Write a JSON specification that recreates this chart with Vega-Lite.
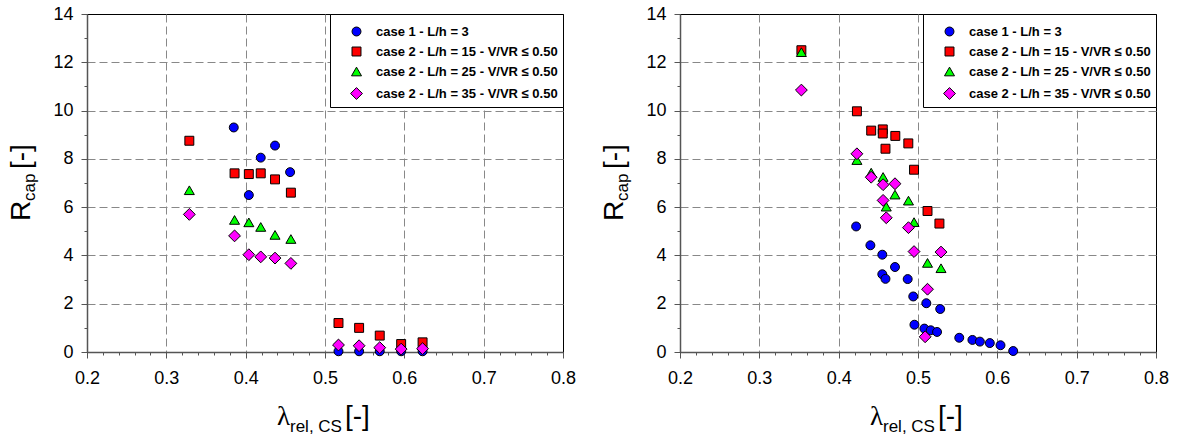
{
  "$schema": "https://vega.github.io/schema/vega-lite/v6.json",
  "background": "white",
  "padding": {"left": 7, "top": 4, "right": 0, "bottom": 0},
  "datasets": {
    "pts": [
      {"panel": "a", "series": "case 1 - L/h = 3", "lam": 0.385, "R": 9.3},
      {"panel": "a", "series": "case 1 - L/h = 3", "lam": 0.404, "R": 6.5},
      {"panel": "a", "series": "case 1 - L/h = 3", "lam": 0.419, "R": 8.05},
      {"panel": "a", "series": "case 1 - L/h = 3", "lam": 0.437, "R": 8.55},
      {"panel": "a", "series": "case 1 - L/h = 3", "lam": 0.456, "R": 7.45},
      {"panel": "a", "series": "case 1 - L/h = 3", "lam": 0.517, "R": 0.03},
      {"panel": "a", "series": "case 1 - L/h = 3", "lam": 0.543, "R": 0.03},
      {"panel": "a", "series": "case 1 - L/h = 3", "lam": 0.569, "R": 0.03},
      {"panel": "a", "series": "case 1 - L/h = 3", "lam": 0.596, "R": 0.03},
      {"panel": "a", "series": "case 1 - L/h = 3", "lam": 0.623, "R": 0.03},
      {"panel": "a", "series": "case 2 - L/h = 15 - V/VR ≤ 0.50", "lam": 0.329, "R": 8.75},
      {"panel": "a", "series": "case 2 - L/h = 15 - V/VR ≤ 0.50", "lam": 0.386, "R": 7.4},
      {"panel": "a", "series": "case 2 - L/h = 15 - V/VR ≤ 0.50", "lam": 0.404, "R": 7.37},
      {"panel": "a", "series": "case 2 - L/h = 15 - V/VR ≤ 0.50", "lam": 0.419, "R": 7.4},
      {"panel": "a", "series": "case 2 - L/h = 15 - V/VR ≤ 0.50", "lam": 0.437, "R": 7.15},
      {"panel": "a", "series": "case 2 - L/h = 15 - V/VR ≤ 0.50", "lam": 0.457, "R": 6.6},
      {"panel": "a", "series": "case 2 - L/h = 15 - V/VR ≤ 0.50", "lam": 0.517, "R": 1.2},
      {"panel": "a", "series": "case 2 - L/h = 15 - V/VR ≤ 0.50", "lam": 0.543, "R": 1.0},
      {"panel": "a", "series": "case 2 - L/h = 15 - V/VR ≤ 0.50", "lam": 0.569, "R": 0.68},
      {"panel": "a", "series": "case 2 - L/h = 15 - V/VR ≤ 0.50", "lam": 0.596, "R": 0.33},
      {"panel": "a", "series": "case 2 - L/h = 15 - V/VR ≤ 0.50", "lam": 0.623, "R": 0.4},
      {"panel": "a", "series": "case 2 - L/h = 25 - V/VR ≤ 0.50", "lam": 0.329, "R": 6.7},
      {"panel": "a", "series": "case 2 - L/h = 25 - V/VR ≤ 0.50", "lam": 0.386, "R": 5.47},
      {"panel": "a", "series": "case 2 - L/h = 25 - V/VR ≤ 0.50", "lam": 0.404, "R": 5.37},
      {"panel": "a", "series": "case 2 - L/h = 25 - V/VR ≤ 0.50", "lam": 0.419, "R": 5.18},
      {"panel": "a", "series": "case 2 - L/h = 25 - V/VR ≤ 0.50", "lam": 0.437, "R": 4.85},
      {"panel": "a", "series": "case 2 - L/h = 25 - V/VR ≤ 0.50", "lam": 0.457, "R": 4.68},
      {"panel": "a", "series": "case 2 - L/h = 35 - V/VR ≤ 0.50", "lam": 0.329, "R": 5.7},
      {"panel": "a", "series": "case 2 - L/h = 35 - V/VR ≤ 0.50", "lam": 0.386, "R": 4.81},
      {"panel": "a", "series": "case 2 - L/h = 35 - V/VR ≤ 0.50", "lam": 0.404, "R": 4.03},
      {"panel": "a", "series": "case 2 - L/h = 35 - V/VR ≤ 0.50", "lam": 0.419, "R": 3.94},
      {"panel": "a", "series": "case 2 - L/h = 35 - V/VR ≤ 0.50", "lam": 0.437, "R": 3.89},
      {"panel": "a", "series": "case 2 - L/h = 35 - V/VR ≤ 0.50", "lam": 0.457, "R": 3.67},
      {"panel": "a", "series": "case 2 - L/h = 35 - V/VR ≤ 0.50", "lam": 0.517, "R": 0.29},
      {"panel": "a", "series": "case 2 - L/h = 35 - V/VR ≤ 0.50", "lam": 0.543, "R": 0.26},
      {"panel": "a", "series": "case 2 - L/h = 35 - V/VR ≤ 0.50", "lam": 0.569, "R": 0.18},
      {"panel": "a", "series": "case 2 - L/h = 35 - V/VR ≤ 0.50", "lam": 0.596, "R": 0.12},
      {"panel": "a", "series": "case 2 - L/h = 35 - V/VR ≤ 0.50", "lam": 0.623, "R": 0.14},

      {"panel": "b", "series": "case 1 - L/h = 3", "lam": 0.422, "R": 5.2},
      {"panel": "b", "series": "case 1 - L/h = 3", "lam": 0.44, "R": 4.42},
      {"panel": "b", "series": "case 1 - L/h = 3", "lam": 0.455, "R": 4.03},
      {"panel": "b", "series": "case 1 - L/h = 3", "lam": 0.455, "R": 3.22},
      {"panel": "b", "series": "case 1 - L/h = 3", "lam": 0.459, "R": 3.03},
      {"panel": "b", "series": "case 1 - L/h = 3", "lam": 0.471, "R": 3.52},
      {"panel": "b", "series": "case 1 - L/h = 3", "lam": 0.487, "R": 3.02},
      {"panel": "b", "series": "case 1 - L/h = 3", "lam": 0.494, "R": 2.3},
      {"panel": "b", "series": "case 1 - L/h = 3", "lam": 0.4955, "R": 1.13},
      {"panel": "b", "series": "case 1 - L/h = 3", "lam": 0.508, "R": 0.97},
      {"panel": "b", "series": "case 1 - L/h = 3", "lam": 0.5105, "R": 2.02},
      {"panel": "b", "series": "case 1 - L/h = 3", "lam": 0.516, "R": 0.9},
      {"panel": "b", "series": "case 1 - L/h = 3", "lam": 0.524, "R": 0.83},
      {"panel": "b", "series": "case 1 - L/h = 3", "lam": 0.528, "R": 1.78},
      {"panel": "b", "series": "case 1 - L/h = 3", "lam": 0.552, "R": 0.59},
      {"panel": "b", "series": "case 1 - L/h = 3", "lam": 0.5686, "R": 0.5},
      {"panel": "b", "series": "case 1 - L/h = 3", "lam": 0.578, "R": 0.43},
      {"panel": "b", "series": "case 1 - L/h = 3", "lam": 0.5905, "R": 0.37},
      {"panel": "b", "series": "case 1 - L/h = 3", "lam": 0.604, "R": 0.28},
      {"panel": "b", "series": "case 1 - L/h = 3", "lam": 0.62, "R": 0.04},
      {"panel": "b", "series": "case 2 - L/h = 15 - V/VR ≤ 0.50", "lam": 0.353, "R": 12.5},
      {"panel": "b", "series": "case 2 - L/h = 15 - V/VR ≤ 0.50", "lam": 0.423, "R": 9.97},
      {"panel": "b", "series": "case 2 - L/h = 15 - V/VR ≤ 0.50", "lam": 0.441, "R": 9.17},
      {"panel": "b", "series": "case 2 - L/h = 15 - V/VR ≤ 0.50", "lam": 0.4556, "R": 9.22},
      {"panel": "b", "series": "case 2 - L/h = 15 - V/VR ≤ 0.50", "lam": 0.4556, "R": 9.05},
      {"panel": "b", "series": "case 2 - L/h = 15 - V/VR ≤ 0.50", "lam": 0.4714, "R": 8.95},
      {"panel": "b", "series": "case 2 - L/h = 15 - V/VR ≤ 0.50", "lam": 0.4878, "R": 8.64},
      {"panel": "b", "series": "case 2 - L/h = 15 - V/VR ≤ 0.50", "lam": 0.459, "R": 8.42},
      {"panel": "b", "series": "case 2 - L/h = 15 - V/VR ≤ 0.50", "lam": 0.495, "R": 7.55},
      {"panel": "b", "series": "case 2 - L/h = 15 - V/VR ≤ 0.50", "lam": 0.512, "R": 5.84},
      {"panel": "b", "series": "case 2 - L/h = 15 - V/VR ≤ 0.50", "lam": 0.527, "R": 5.32},
      {"panel": "b", "series": "case 2 - L/h = 25 - V/VR ≤ 0.50", "lam": 0.353, "R": 12.42},
      {"panel": "b", "series": "case 2 - L/h = 25 - V/VR ≤ 0.50", "lam": 0.423, "R": 7.95},
      {"panel": "b", "series": "case 2 - L/h = 25 - V/VR ≤ 0.50", "lam": 0.441, "R": 7.43},
      {"panel": "b", "series": "case 2 - L/h = 25 - V/VR ≤ 0.50", "lam": 0.456, "R": 7.25},
      {"panel": "b", "series": "case 2 - L/h = 25 - V/VR ≤ 0.50", "lam": 0.471, "R": 6.52},
      {"panel": "b", "series": "case 2 - L/h = 25 - V/VR ≤ 0.50", "lam": 0.488, "R": 6.27},
      {"panel": "b", "series": "case 2 - L/h = 25 - V/VR ≤ 0.50", "lam": 0.46, "R": 6.02},
      {"panel": "b", "series": "case 2 - L/h = 25 - V/VR ≤ 0.50", "lam": 0.495, "R": 5.38},
      {"panel": "b", "series": "case 2 - L/h = 25 - V/VR ≤ 0.50", "lam": 0.512, "R": 3.69},
      {"panel": "b", "series": "case 2 - L/h = 25 - V/VR ≤ 0.50", "lam": 0.529, "R": 3.47},
      {"panel": "b", "series": "case 2 - L/h = 35 - V/VR ≤ 0.50", "lam": 0.353, "R": 10.85},
      {"panel": "b", "series": "case 2 - L/h = 35 - V/VR ≤ 0.50", "lam": 0.423, "R": 8.21},
      {"panel": "b", "series": "case 2 - L/h = 35 - V/VR ≤ 0.50", "lam": 0.441, "R": 7.24},
      {"panel": "b", "series": "case 2 - L/h = 35 - V/VR ≤ 0.50", "lam": 0.456, "R": 6.93},
      {"panel": "b", "series": "case 2 - L/h = 35 - V/VR ≤ 0.50", "lam": 0.471, "R": 6.97},
      {"panel": "b", "series": "case 2 - L/h = 35 - V/VR ≤ 0.50", "lam": 0.456, "R": 6.28},
      {"panel": "b", "series": "case 2 - L/h = 35 - V/VR ≤ 0.50", "lam": 0.46, "R": 5.56},
      {"panel": "b", "series": "case 2 - L/h = 35 - V/VR ≤ 0.50", "lam": 0.488, "R": 5.15},
      {"panel": "b", "series": "case 2 - L/h = 35 - V/VR ≤ 0.50", "lam": 0.495, "R": 4.16},
      {"panel": "b", "series": "case 2 - L/h = 35 - V/VR ≤ 0.50", "lam": 0.529, "R": 4.14},
      {"panel": "b", "series": "case 2 - L/h = 35 - V/VR ≤ 0.50", "lam": 0.512, "R": 2.6},
      {"panel": "b", "series": "case 2 - L/h = 35 - V/VR ≤ 0.50", "lam": 0.509, "R": 0.63}
    ]
  },
  "config": {
    "view": {"stroke": "black", "strokeWidth": 1},
    "axis": {
      "labelFont": "Liberation Sans",
      "labelFontSize": 18,
      "labelColor": "black",
      "labelOverlap": false,
      "labelFlush": false,
      "tickCount": 100,
      "domainColor": "#555555",
      "domainWidth": 1.5,
      "tickColor": "#555555",
      "tickWidth": 1,
      "gridColor": "#888888",
      "gridDash": [8, 4],
      "gridWidth": 1
    },
    "legend": {
      "orient": "top-right",
      "offset": 0,
      "strokeColor": "black",
      "fillColor": "white",
      "padding": 5,
      "rowPadding": 6,
      "titleFontSize": 4,
      "titlePadding": 2,
      "labelFont": "Liberation Sans",
      "labelFontSize": 13,
      "labelFontWeight": "bold",
      "labelColor": "black",
      "labelLimit": 400,
      "symbolSize": 50,
      "symbolStrokeColor": "black",
      "symbolStrokeWidth": 1,
      "symbolOffset": 15,
      "labelOffset": 13
    }
  },
  "spacing": 117,
  "bounds": "flush",
  "resolve": {
    "scale": {"color": "independent", "shape": "independent", "size": "independent"},
    "legend": {"color": "independent", "shape": "independent"}
  },
  "hconcat": [
    {
      "width": 476,
      "height": 338,
      "layer": [
        {
          "data": {"name": "pts"},
          "transform": [{"filter": "datum.panel == 'a'"}],
          "mark": {"type": "point", "filled": true, "stroke": "black", "strokeWidth": 1, "opacity": 1},
          "encoding": {
            "x": {
              "field": "lam", "type": "quantitative",
              "scale": {"domain": [0.2, 0.8], "nice": false, "zero": false},
              "axis": {
                "title": null,
                "values": [0.2, 0.22, 0.24, 0.26, 0.28, 0.3, 0.32, 0.34, 0.36, 0.38, 0.4, 0.42, 0.44, 0.46, 0.48, 0.5, 0.52, 0.54, 0.56, 0.58, 0.6, 0.62, 0.64, 0.66, 0.68, 0.7, 0.72, 0.74, 0.76, 0.78, 0.8],
                "labelExpr": "abs(datum.value * 10 - round(datum.value * 10)) < 0.001 ? format(datum.value, '.1f') : ''",
                "labelPadding": 11,
                "gridOpacity": {"condition": {"test": "abs(datum.value * 10 - round(datum.value * 10)) < 0.001 && datum.value > 0.21 && datum.value < 0.79", "value": 1}, "value": 0},
                "tickSize": {"condition": {"test": "abs(datum.value * 10 - round(datum.value * 10)) < 0.001", "value": 6}, "value": 3}
              }
            },
            "y": {
              "field": "R", "type": "quantitative",
              "scale": {"domain": [0, 14], "nice": false},
              "axis": {
                "title": null,
                "values": [0, 1, 2, 3, 4, 5, 6, 7, 8, 9, 10, 11, 12, 13, 14],
                "labelExpr": "datum.value % 2 == 0 ? format(datum.value, 'd') : ''",
                "labelPadding": 8,
                "gridOpacity": {"condition": {"test": "datum.value % 2 == 0 && datum.value > 0 && datum.value < 14", "value": 1}, "value": 0},
                "tickSize": {"condition": {"test": "datum.value % 2 == 0", "value": 6}, "value": 3}
              }
            },
            "color": {
              "field": "series", "type": "nominal",
              "scale": {"domain": ["case 1 - L/h = 3", "case 2 - L/h = 15 - V/VR ≤ 0.50", "case 2 - L/h = 25 - V/VR ≤ 0.50", "case 2 - L/h = 35 - V/VR ≤ 0.50"], "range": ["#0000ff", "#ff0000", "#00ff00", "#ff00ff"]},
              "legend": {"title": " "}
            },
            "shape": {
              "field": "series", "type": "nominal",
              "scale": {"domain": ["case 1 - L/h = 3", "case 2 - L/h = 15 - V/VR ≤ 0.50", "case 2 - L/h = 25 - V/VR ≤ 0.50", "case 2 - L/h = 35 - V/VR ≤ 0.50"], "range": ["circle", "square", "triangle-up", "diamond"]},
              "legend": {"title": " "}
            },
            "size": {
              "field": "series", "type": "nominal",
              "scale": {"type": "ordinal", "domain": ["case 1 - L/h = 3", "case 2 - L/h = 15 - V/VR ≤ 0.50", "case 2 - L/h = 25 - V/VR ≤ 0.50", "case 2 - L/h = 35 - V/VR ≤ 0.50"], "range": [80, 80, 100, 140]},
              "legend": null
            }
          }
        },
        {
          "data": {"values": [{}]},
          "mark": {"type": "text", "text": "R", "font": "Liberation Sans", "fontSize": 28, "angle": 270, "align": "left", "baseline": "alphabetic", "dx": -38, "dy": -57},
          "encoding": {"x": {"datum": 0.2, "type": "quantitative"}, "y": {"datum": 7, "type": "quantitative"}}
        },
        {
          "data": {"values": [{}]},
          "mark": {"type": "text", "text": "cap", "font": "Liberation Sans", "fontSize": 17, "angle": 270, "align": "left", "baseline": "alphabetic", "dx": -18, "dy": -52},
          "encoding": {"x": {"datum": 0.2, "type": "quantitative"}, "y": {"datum": 7, "type": "quantitative"}}
        },
        {
          "data": {"values": [{}]},
          "mark": {"type": "text", "text": "[-]", "font": "Liberation Sans", "fontSize": 28, "angle": 270, "align": "left", "baseline": "alphabetic", "dx": 14, "dy": -57},
          "encoding": {"x": {"datum": 0.2, "type": "quantitative"}, "y": {"datum": 7, "type": "quantitative"}}
        },
        {
          "data": {"values": [{}]},
          "mark": {"type": "text", "text": "λ", "font": "Liberation Serif", "fontSize": 27, "align": "left", "baseline": "alphabetic", "dx": -48, "dy": 73},
          "encoding": {"x": {"datum": 0.5, "type": "quantitative"}, "y": {"datum": 0, "type": "quantitative"}}
        },
        {
          "data": {"values": [{}]},
          "mark": {"type": "text", "text": "rel, CS", "font": "Liberation Sans", "fontSize": 17, "align": "left", "baseline": "alphabetic", "dx": -35, "dy": 80},
          "encoding": {"x": {"datum": 0.5, "type": "quantitative"}, "y": {"datum": 0, "type": "quantitative"}}
        },
        {
          "data": {"values": [{}]},
          "mark": {"type": "text", "text": "[-]", "font": "Liberation Sans", "fontSize": 28, "align": "left", "baseline": "alphabetic", "dx": 20, "dy": 73},
          "encoding": {"x": {"datum": 0.5, "type": "quantitative"}, "y": {"datum": 0, "type": "quantitative"}}
        }
      ]
    },
    {
      "width": 476,
      "height": 338,
      "layer": [
        {
          "data": {"name": "pts"},
          "transform": [{"filter": "datum.panel == 'b'"}],
          "mark": {"type": "point", "filled": true, "stroke": "black", "strokeWidth": 1, "opacity": 1},
          "encoding": {
            "x": {
              "field": "lam", "type": "quantitative",
              "scale": {"domain": [0.2, 0.8], "nice": false, "zero": false},
              "axis": {
                "title": null,
                "values": [0.2, 0.22, 0.24, 0.26, 0.28, 0.3, 0.32, 0.34, 0.36, 0.38, 0.4, 0.42, 0.44, 0.46, 0.48, 0.5, 0.52, 0.54, 0.56, 0.58, 0.6, 0.62, 0.64, 0.66, 0.68, 0.7, 0.72, 0.74, 0.76, 0.78, 0.8],
                "labelExpr": "abs(datum.value * 10 - round(datum.value * 10)) < 0.001 ? format(datum.value, '.1f') : ''",
                "labelPadding": 11,
                "gridOpacity": {"condition": {"test": "abs(datum.value * 10 - round(datum.value * 10)) < 0.001 && datum.value > 0.21 && datum.value < 0.79", "value": 1}, "value": 0},
                "tickSize": {"condition": {"test": "abs(datum.value * 10 - round(datum.value * 10)) < 0.001", "value": 6}, "value": 3}
              }
            },
            "y": {
              "field": "R", "type": "quantitative",
              "scale": {"domain": [0, 14], "nice": false},
              "axis": {
                "title": null,
                "values": [0, 1, 2, 3, 4, 5, 6, 7, 8, 9, 10, 11, 12, 13, 14],
                "labelExpr": "datum.value % 2 == 0 ? format(datum.value, 'd') : ''",
                "labelPadding": 8,
                "gridOpacity": {"condition": {"test": "datum.value % 2 == 0 && datum.value > 0 && datum.value < 14", "value": 1}, "value": 0},
                "tickSize": {"condition": {"test": "datum.value % 2 == 0", "value": 6}, "value": 3}
              }
            },
            "color": {
              "field": "series", "type": "nominal",
              "scale": {"domain": ["case 1 - L/h = 3", "case 2 - L/h = 15 - V/VR ≤ 0.50", "case 2 - L/h = 25 - V/VR ≤ 0.50", "case 2 - L/h = 35 - V/VR ≤ 0.50"], "range": ["#0000ff", "#ff0000", "#00ff00", "#ff00ff"]},
              "legend": {"title": " "}
            },
            "shape": {
              "field": "series", "type": "nominal",
              "scale": {"domain": ["case 1 - L/h = 3", "case 2 - L/h = 15 - V/VR ≤ 0.50", "case 2 - L/h = 25 - V/VR ≤ 0.50", "case 2 - L/h = 35 - V/VR ≤ 0.50"], "range": ["circle", "square", "triangle-up", "diamond"]},
              "legend": {"title": " "}
            },
            "size": {
              "field": "series", "type": "nominal",
              "scale": {"type": "ordinal", "domain": ["case 1 - L/h = 3", "case 2 - L/h = 15 - V/VR ≤ 0.50", "case 2 - L/h = 25 - V/VR ≤ 0.50", "case 2 - L/h = 35 - V/VR ≤ 0.50"], "range": [80, 80, 100, 140]},
              "legend": null
            }
          }
        },
        {
          "data": {"values": [{}]},
          "mark": {"type": "text", "text": "R", "font": "Liberation Sans", "fontSize": 28, "angle": 270, "align": "left", "baseline": "alphabetic", "dx": -38, "dy": -57},
          "encoding": {"x": {"datum": 0.2, "type": "quantitative"}, "y": {"datum": 7, "type": "quantitative"}}
        },
        {
          "data": {"values": [{}]},
          "mark": {"type": "text", "text": "cap", "font": "Liberation Sans", "fontSize": 17, "angle": 270, "align": "left", "baseline": "alphabetic", "dx": -18, "dy": -52},
          "encoding": {"x": {"datum": 0.2, "type": "quantitative"}, "y": {"datum": 7, "type": "quantitative"}}
        },
        {
          "data": {"values": [{}]},
          "mark": {"type": "text", "text": "[-]", "font": "Liberation Sans", "fontSize": 28, "angle": 270, "align": "left", "baseline": "alphabetic", "dx": 14, "dy": -57},
          "encoding": {"x": {"datum": 0.2, "type": "quantitative"}, "y": {"datum": 7, "type": "quantitative"}}
        },
        {
          "data": {"values": [{}]},
          "mark": {"type": "text", "text": "λ", "font": "Liberation Serif", "fontSize": 27, "align": "left", "baseline": "alphabetic", "dx": -48, "dy": 73},
          "encoding": {"x": {"datum": 0.5, "type": "quantitative"}, "y": {"datum": 0, "type": "quantitative"}}
        },
        {
          "data": {"values": [{}]},
          "mark": {"type": "text", "text": "rel, CS", "font": "Liberation Sans", "fontSize": 17, "align": "left", "baseline": "alphabetic", "dx": -35, "dy": 80},
          "encoding": {"x": {"datum": 0.5, "type": "quantitative"}, "y": {"datum": 0, "type": "quantitative"}}
        },
        {
          "data": {"values": [{}]},
          "mark": {"type": "text", "text": "[-]", "font": "Liberation Sans", "fontSize": 28, "align": "left", "baseline": "alphabetic", "dx": 20, "dy": 73},
          "encoding": {"x": {"datum": 0.5, "type": "quantitative"}, "y": {"datum": 0, "type": "quantitative"}}
        }
      ]
    }
  ]
}
